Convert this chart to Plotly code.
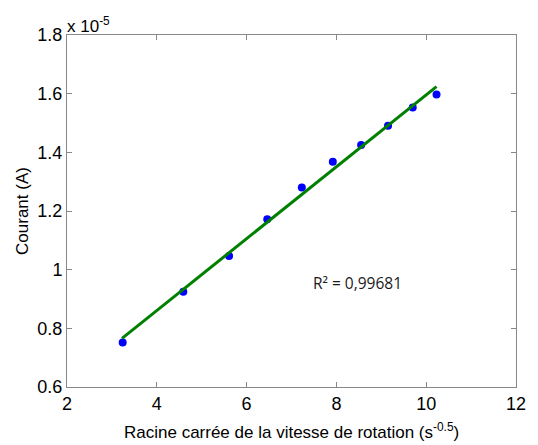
import plotly.graph_objects as go

# Data (current in units of 1e-5 A)
x_vals = [3.24, 4.59, 5.61, 6.46, 7.23, 7.92, 8.55, 9.15, 9.70, 10.23]
y_vals = [0.752, 0.925, 1.047, 1.172, 1.280, 1.368, 1.425, 1.491, 1.553, 1.597]
fit_x = [3.225, 10.23]
fit_y = [0.7655, 1.624]
r2_text = "R² = 0,99681"
x_title = "Racine carrée de la vitesse de rotation (s<sup>-0.5</sup>)"
y_title = "Courant (A)"
x_ticks = [2, 4, 6, 8, 10, 12]
y_ticks = [0.6, 0.8, 1.0, 1.2, 1.4, 1.6, 1.8]
y_tick_labels = ["0.6", "0.8", "1", "1.2", "1.4", "1.6", "1.8"]

font_main = "Liberation Sans, Arial, sans-serif"

fig = go.Figure()
fig.add_trace(go.Scatter(x=x_vals, y=y_vals, mode="markers",
                         marker=dict(color="#0000ff", size=8), showlegend=False))
fig.add_trace(go.Scatter(x=fit_x, y=fit_y, mode="lines",
                         line=dict(color="#008000", width=3), showlegend=False))

fig.add_annotation(x=7.44, y=0.955, xref="x", yref="y", text=r2_text,
                   showarrow=False, xanchor="left", yanchor="middle",
                   font=dict(family="Open Sans, Noto Sans, sans-serif", size=15.5, color="#1a1a1a"))
fig.add_annotation(x=0, y=1, xref="paper", yref="paper", text="x 10<sup>-5</sup>",
                   showarrow=False, xanchor="left", yanchor="bottom", yshift=-3, xshift=-2,
                   font=dict(family=font_main, size=17, color="black"))
fig.add_annotation(x=0.5, y=0, xref="paper", yref="paper", text=x_title,
                   showarrow=False, xanchor="center", yanchor="middle", yshift=-44,
                   font=dict(family=font_main, size=17, color="black"))

axis_common = dict(showline=True, linecolor="#888888", linewidth=1, mirror="ticks",
                   ticks="inside", ticklen=5, tickcolor="#888888", showgrid=False,
                   zeroline=False, tickfont=dict(family=font_main, size=18, color="black"))

fig.update_xaxes(range=[2, 12], tickvals=x_ticks, ticktext=[str(v) for v in x_ticks],
                 **axis_common)
fig.update_yaxes(range=[0.6, 1.8], tickvals=y_ticks, ticktext=y_tick_labels,
                 title=dict(text=y_title, font=dict(family=font_main, size=17, color="black"), standoff=4),
                 **axis_common)

fig.update_layout(width=538, height=445, margin=dict(l=67, r=14, t=35, b=58),
                  plot_bgcolor="white", paper_bgcolor="white", hovermode=False)

fig.write_html("out.html", config={"displayModeBar": False, "staticPlot": True},
               post_script="document.body.style.margin='0px';document.body.style.overflow='hidden';")
